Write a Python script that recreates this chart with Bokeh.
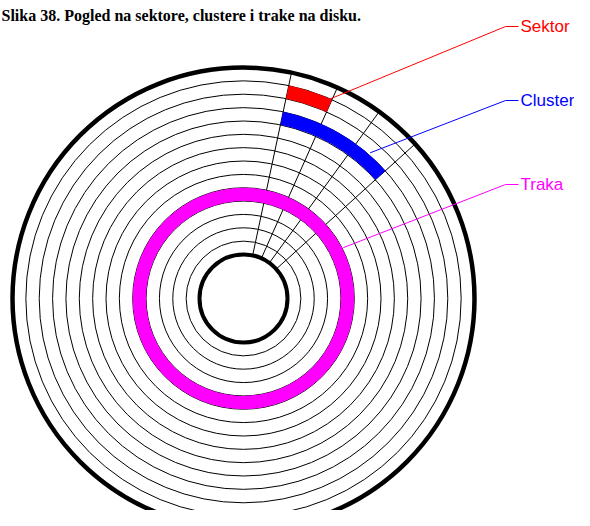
import numpy as np
from bokeh.plotting import figure
from bokeh.models import Range1d
from bokeh.core.properties import value
from bokeh.embed import file_html
from bokeh.resources import INLINE

# ---- diagram data -------------------------------------------------------
title_text = "Slika 38. Pogled na sektore, clustere i trake na disku."
hole_radius = 44.0
rim_radius = 231.0
track_count = 14
track_radii = list(np.linspace(hole_radius, rim_radius, track_count + 1))

sector_angles = [12, 24, 36, 48]          # degrees clockwise from 12 o'clock

# highlighted regions: (track index, first sector angle, last sector angle)
sektor_track, sektor_from, sektor_to = 12, 12, 24
cluster_track, cluster_from, cluster_to = 10, 12, 48
traka_track = 4

labels = ["Sektor", "Cluster", "Traka"]
label_colors = ["#ff0000", "#0000ff", "#ff00ff"]
leader_r = [212, 193, 112]                 # where the leader touches the disk
leader_angle = [22, 41, 63]                # degrees clockwise from 12 o'clock
elbow_x = 262
label_y = [272, 198, 114]
line_end_x = 275
text_x = 277

# ---- figure --------------------------------------------------------------
W, H = 574, 510
CX, CY = 243, 298                          # disk centre in the picture
p = figure(width=W, height=H, output_backend="svg", toolbar_location=None,
           x_range=Range1d(-CX, -CX + W), y_range=Range1d(CY - H, CY),
           x_axis_type=None, y_axis_type=None, min_border=0)
p.grid.visible = False
p.outline_line_color = None
p.background_fill_color = "white"
p.border_fill_color = "white"

def polar(r, deg):
    a = np.radians(deg)
    return r * np.sin(a), r * np.cos(a)

# thin track circles
inner = track_radii[1:-1]
p.circle(x=[0] * len(inner), y=[0] * len(inner), radius=inner,
         fill_color=None, line_color="black", line_width=1)

# radial sector lines
x0, y0 = polar(np.array([hole_radius] * 4), np.array(sector_angles))
x1, y1 = polar(np.array([rim_radius] * 4), np.array(sector_angles))
p.segment(x0=x0, y0=y0, x1=x1, y1=y1, line_color="black", line_width=1)

# track (magenta ring)
p.annulus(x=0, y=0, inner_radius=track_radii[traka_track],
          outer_radius=track_radii[traka_track + 1],
          fill_color="#ff00ff", line_color=None)

# cluster (blue) and sector (red)
def wedge(track, a_from, a_to, color):
    p.annular_wedge(x=0, y=0, inner_radius=track_radii[track],
                    outer_radius=track_radii[track + 1],
                    start_angle=np.radians(90 - a_to), end_angle=np.radians(90 - a_from),
                    fill_color=color, line_color=None)

wedge(cluster_track, cluster_from, cluster_to, "#0000ff")
wedge(sektor_track, sektor_from, sektor_to, "#ff0000")

# hole and rim
p.circle(x=[0, 0], y=[0, 0], radius=[hole_radius, rim_radius],
         fill_color=None, line_color="black", line_width=[4, 4.5])

# leader lines and labels
for r, a, ly, col, lab in zip(leader_r, leader_angle, label_y, label_colors, labels):
    sx, sy = polar(r, a)
    p.line(x=[sx, elbow_x, line_end_x], y=[sy, ly, ly], line_color=col, line_width=1)
    p.text(x=[text_x], y=[ly], text=[lab], text_color=col,
           text_font=value("Liberation Sans"), text_font_size="17px",
           text_baseline="middle", text_align="left")

# caption at the very top
p.text(x=[-CX + 1], y=[CY - 15], text=[title_text], text_color="black",
       text_font=value("Liberation Serif"), text_font_style="bold",
       text_font_size="16px", text_baseline="alphabetic", text_align="left")

open("out.html", "w").write(file_html(p, INLINE))
